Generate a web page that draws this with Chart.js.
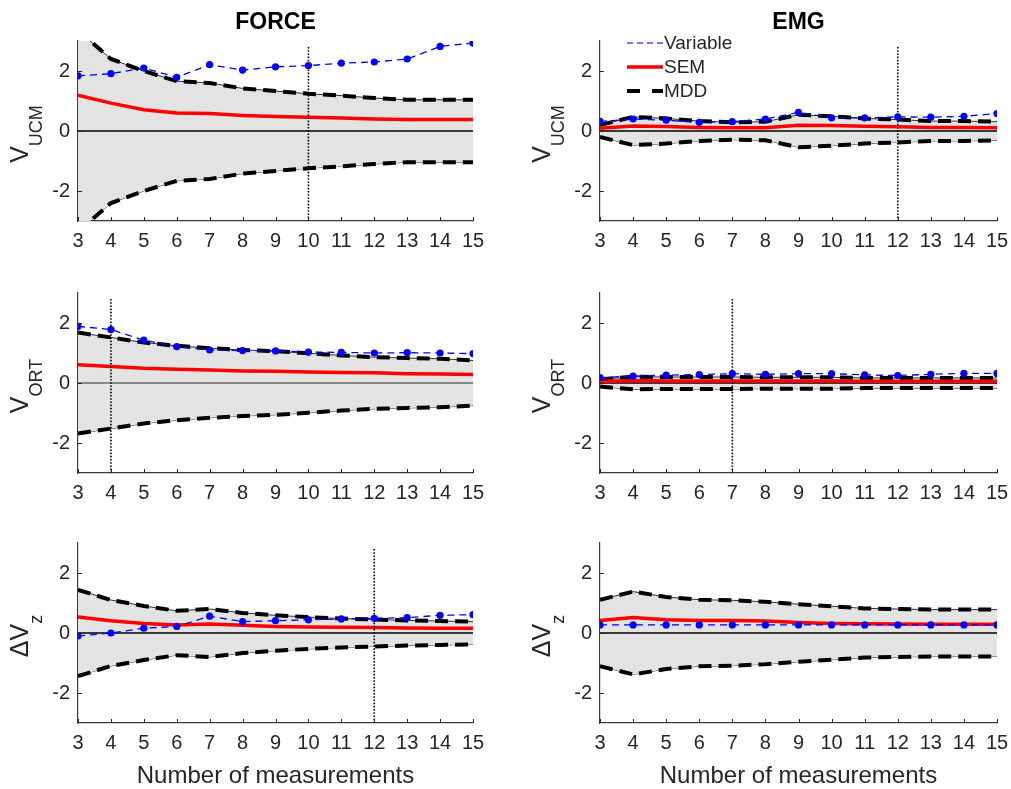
<!DOCTYPE html>
<html lang="en">
<head>
<meta charset="UTF-8">
<title>MDD vs number of measurements</title>
<script src="https://cdn.jsdelivr.net/npm/chart.js"></script>
<style>
  body { margin: 0; background: #fff; }
  #wrap { position: relative; width: 1011px; height: 789px; overflow: hidden; }
  #wrap canvas { position: absolute; }
</style>
</head>
<body>
<div id="wrap"></div>
<script>
  // x values (number of measurements)
  const nMeas = [3, 4, 5, 6, 7, 8, 9, 10, 11, 12, 13, 14, 15];

  // FORCE, V_UCM
  const forceUcmVar = [1.84, 1.91, 2.10, 1.79, 2.21, 2.03, 2.14, 2.18, 2.26, 2.30, 2.40, 2.82, 2.93];
  const forceUcmSem = [1.19, 0.93, 0.71, 0.60, 0.58, 0.52, 0.48, 0.46, 0.43, 0.40, 0.38, 0.38, 0.38];
  const forceUcmMdd = [3.35, 2.40, 2.00, 1.66, 1.60, 1.42, 1.33, 1.24, 1.18, 1.10, 1.04, 1.04, 1.04];

  // EMG, V_UCM
  const emgUcmVar = [0.32, 0.40, 0.36, 0.29, 0.31, 0.40, 0.62, 0.44, 0.44, 0.47, 0.46, 0.49, 0.58];
  const emgUcmSem = [0.09, 0.17, 0.15, 0.12, 0.11, 0.11, 0.19, 0.18, 0.16, 0.14, 0.12, 0.12, 0.11];
  const emgUcmMdd = [0.20, 0.47, 0.42, 0.33, 0.29, 0.31, 0.54, 0.49, 0.42, 0.38, 0.33, 0.33, 0.31];

  // FORCE, V_ORT
  const forceOrtVar = [1.89, 1.78, 1.43, 1.21, 1.10, 1.08, 1.07, 1.03, 1.02, 1.00, 1.01, 1.00, 0.98];
  const forceOrtSem = [0.61, 0.55, 0.49, 0.46, 0.43, 0.40, 0.39, 0.37, 0.35, 0.34, 0.31, 0.30, 0.28];
  const forceOrtMdd = [1.68, 1.52, 1.35, 1.24, 1.16, 1.10, 1.06, 0.99, 0.92, 0.86, 0.83, 0.81, 0.75];

  // EMG, V_ORT
  const emgOrtVar = [0.18, 0.23, 0.26, 0.28, 0.31, 0.29, 0.31, 0.31, 0.27, 0.25, 0.29, 0.32, 0.32];
  const emgOrtSem = [0.05, 0.08, 0.07, 0.07, 0.07, 0.07, 0.07, 0.07, 0.06, 0.06, 0.06, 0.06, 0.06];
  const emgOrtMdd = [0.12, 0.21, 0.20, 0.20, 0.20, 0.19, 0.19, 0.19, 0.17, 0.17, 0.17, 0.17, 0.17];

  // FORCE, dVz
  const forceDvzVar = [-0.10, 0.00, 0.16, 0.22, 0.56, 0.38, 0.41, 0.44, 0.47, 0.49, 0.51, 0.59, 0.61];
  const forceDvzSem = [0.53, 0.41, 0.32, 0.27, 0.30, 0.26, 0.22, 0.20, 0.19, 0.18, 0.17, 0.16, 0.16];
  const forceDvzMdd = [1.44, 1.10, 0.90, 0.74, 0.80, 0.67, 0.59, 0.53, 0.48, 0.45, 0.42, 0.40, 0.38];

  // EMG, dVz
  const emgDvzVar = [0.27, 0.27, 0.27, 0.27, 0.27, 0.27, 0.27, 0.27, 0.27, 0.27, 0.27, 0.27, 0.27];
  const emgDvzSem = [0.42, 0.52, 0.44, 0.42, 0.42, 0.40, 0.35, 0.32, 0.31, 0.30, 0.29, 0.29, 0.29];
  const emgDvzMdd = [1.11, 1.38, 1.20, 1.11, 1.09, 1.04, 0.96, 0.89, 0.82, 0.80, 0.78, 0.78, 0.78];

  const colTitles = ['FORCE', 'EMG'];
  const rowLabels = [['V', 'UCM'], ['V', 'ORT'], ['\u0394V', 'z']];
  const yTicks = [-2, 0, 2];
  const xLabel = 'Number of measurements';
  const legendNames = ['Variable', 'SEM', 'MDD'];

  const panels = [
    { row: 0, col: 0, vari: forceUcmVar, sem: forceUcmSem, mdd: forceUcmMdd, cut: 10 },
    { row: 0, col: 1, vari: emgUcmVar, sem: emgUcmSem, mdd: emgUcmMdd, cut: 12 },
    { row: 1, col: 0, vari: forceOrtVar, sem: forceOrtSem, mdd: forceOrtMdd, cut: 4 },
    { row: 1, col: 1, vari: emgOrtVar, sem: emgOrtSem, mdd: emgOrtMdd, cut: 7 },
    { row: 2, col: 0, vari: forceDvzVar, sem: forceDvzSem, mdd: forceDvzMdd, cut: 12 },
    { row: 2, col: 1, vari: emgDvzVar, sem: emgDvzSem, mdd: emgDvzMdd, cut: null }
  ];

  // layout of the 3x2 grid (canvas boxes and target plot areas);
  // the right column canvas runs past the page edge and is clipped by #wrap
  const cols = [
    { left: 0, width: 505, plotL: 78, plotR: 473 },
    { left: 505, width: 530, plotL: 600, plotR: 997 }
  ];
  const rows = [
    { top: 0, height: 262, plotT: 41, plotB: 221 },
    { top: 262, height: 250, plotT: 293, plotB: 473 },
    { top: 512, height: 277, plotT: 543, plotB: 723 }
  ];
  const Y_AXIS_W = 60;
  const X_AXIS_H = 30;

  const FONT = "'Liberation Sans', Arial, Helvetica, sans-serif";
  const TXT = '#262626';
  Chart.defaults.font.family = FONT;
  Chart.defaults.color = TXT;

  const pts = arr => arr.map((v, i) => ({ x: nMeas[i], y: v }));
  const xMin = nMeas[0];
  const xMax = nMeas[nMeas.length - 1];

  // y label with subscript, titles, x label, inward ticks, legend
  const decor = {
    id: 'decor',
    afterDatasetsDraw(chart) {
      const p = chart.options.plugins.decor;
      const ctx = chart.ctx;
      const a = chart.chartArea;
      const xs = chart.scales.x, ys = chart.scales.y;

      ctx.save();
      // inward tick marks
      ctx.strokeStyle = TXT;
      ctx.lineWidth = 1;
      ctx.beginPath();
      xs.ticks.forEach(t => {
        const px = Math.round(xs.getPixelForValue(t.value)) + 0.5;
        ctx.moveTo(px, a.bottom);
        ctx.lineTo(px, a.bottom - 4);
      });
      ys.ticks.forEach(t => {
        const py = Math.round(ys.getPixelForValue(t.value)) + 0.5;
        ctx.moveTo(a.left, py);
        ctx.lineTo(a.left + 4, py);
      });
      ctx.stroke();
      ctx.restore();

      // legend
      if (p.legend) {
        ctx.save();
        const lx = a.left + 27, lw = 36;
        const ly = [a.top + 2, a.top + 26, a.top + 50];
        ctx.lineCap = 'butt';
        // Variable
        ctx.strokeStyle = '#4a4aff';
        ctx.lineWidth = 1.3;
        ctx.setLineDash([6, 4]);
        ctx.beginPath(); ctx.moveTo(lx, ly[0]); ctx.lineTo(lx + lw, ly[0]); ctx.stroke();
        // SEM
        ctx.strokeStyle = '#ff0000';
        ctx.lineWidth = 3.5;
        ctx.setLineDash([]);
        ctx.beginPath(); ctx.moveTo(lx, ly[1]); ctx.lineTo(lx + lw, ly[1]); ctx.stroke();
        // MDD
        ctx.strokeStyle = '#000';
        ctx.lineWidth = 4;
        ctx.setLineDash([13, 12]);
        ctx.beginPath(); ctx.moveTo(lx, ly[2]); ctx.lineTo(lx + lw, ly[2]); ctx.stroke();
        ctx.setLineDash([]);
        ctx.fillStyle = TXT;
        ctx.font = '19px ' + FONT;
        ctx.textBaseline = 'middle';
        ctx.textAlign = 'left';
        legendNames.forEach((n, i) => ctx.fillText(n, lx + lw + 1, ly[i] + 1));
        ctx.restore();
      }
    },
    afterDraw(chart) {
      const p = chart.options.plugins.decor;
      const ctx = chart.ctx;
      const a = chart.chartArea;
      const cx = (a.left + a.right) / 2;

      ctx.save();
      ctx.fillStyle = TXT;
      if (p.title) {
        ctx.fillStyle = '#000';
        ctx.font = 'bold 23px ' + FONT;
        ctx.textAlign = 'center';
        ctx.textBaseline = 'middle';
        ctx.fillText(p.title, cx, a.top - 18);
      }
      if (p.xLabel) {
        ctx.fillStyle = TXT;
        ctx.font = '24px ' + FONT;
        ctx.textAlign = 'center';
        ctx.textBaseline = 'middle';
        ctx.fillText(p.xLabel, cx, a.bottom + 53);
      }
      // rotated y label with subscript
      const [main, sub] = p.yLabel;
      const mainFont = '25px ' + FONT, subFont = '18px ' + FONT;
      ctx.font = mainFont;
      const wm = ctx.measureText(main).width;
      ctx.font = subFont;
      const ws = ctx.measureText(sub).width;
      const total = wm + ws;
      ctx.translate(a.left - 50, (a.top + a.bottom) / 2 + 3);
      ctx.rotate(-Math.PI / 2);
      ctx.fillStyle = TXT;
      ctx.textAlign = 'left';
      ctx.textBaseline = 'alphabetic';
      ctx.font = mainFont;
      ctx.fillText(main, -total / 2, 0);
      ctx.font = subFont;
      ctx.fillText(sub, -total / 2 + wm, 14);
      ctx.restore();
    }
  };

  const wrap = document.getElementById('wrap');

  panels.forEach(p => {
    const c = cols[p.col], r = rows[p.row];
    const canvas = document.createElement('canvas');
    canvas.width = c.width;
    canvas.height = r.height;
    canvas.style.left = c.left + 'px';
    canvas.style.top = r.top + 'px';
    canvas.style.width = c.width + 'px';
    canvas.style.height = r.height + 'px';
    wrap.appendChild(canvas);

    const last = p.mdd.length - 1;
    const datasets = [
      { // shaded MDD band (upper edge)
        data: pts(p.mdd), borderColor: '#000', borderWidth: 0.8,
        backgroundColor: '#e3e3e3', fill: '+1', pointRadius: 0, order: 10
      },
      { // shaded MDD band (lower edge)
        data: pts(p.mdd.map(v => -v)), borderColor: '#000', borderWidth: 0.8,
        fill: false, pointRadius: 0, order: 10
      },
      { // band closing edge at the last measurement
        data: [{ x: xMax, y: p.mdd[last] }, { x: xMax, y: -p.mdd[last] }],
        borderColor: '#000', borderWidth: 0.8, pointRadius: 0, fill: false, order: 10
      },
      { // zero line
        data: [{ x: xMin, y: 0 }, { x: xMax, y: 0 }],
        borderColor: p.row === 1 && p.col === 0 ? '#6a6a6a' : '#000',
        borderWidth: 1.3, pointRadius: 0, fill: false, order: 9
      },
      { // MDD dashed
        data: pts(p.mdd), borderColor: '#000', borderWidth: 4, borderDash: [13, 7],
        pointRadius: 0, fill: false, order: 8
      },
      {
        data: pts(p.mdd.map(v => -v)), borderColor: '#000', borderWidth: 4, borderDash: [13, 7],
        pointRadius: 0, fill: false, order: 8
      },
      { // SEM
        data: pts(p.sem), borderColor: '#ff0000', borderWidth: 3.5,
        pointRadius: 0, fill: false, order: 6
      },
      { // Variable
        data: pts(p.vari), borderColor: '#0000ff', borderWidth: 1.3, borderDash: [7, 5],
        pointRadius: 3.6, pointBackgroundColor: '#0000ff', pointBorderWidth: 0,
        fill: false, order: 2
      }
    ];
    if (p.cut !== null) {
      datasets.push({ // cut-off marker
        data: [{ x: p.cut, y: 2.8 }, { x: p.cut, y: -3 }],
        borderColor: '#000', borderWidth: 1.6, borderDash: [1.6, 1.6],
        pointRadius: 0, fill: false, order: 4
      });
    }

    new Chart(canvas.getContext('2d'), {
      type: 'line',
      data: { datasets },
      options: {
        responsive: false,
        animation: false,
        devicePixelRatio: 1,
        layout: {
          padding: {
            left: c.plotL - c.left - Y_AXIS_W,
            right: c.left + c.width - c.plotR,
            top: r.plotT - r.top,
            bottom: r.top + r.height - r.plotB - X_AXIS_H
          }
        },
        scales: {
          x: {
            type: 'linear', min: xMin, max: xMax,
            ticks: { stepSize: 1, autoSkip: false, maxRotation: 0, padding: 8, color: TXT, font: { size: 20 } },
            grid: { display: false, drawTicks: false },
            border: { color: '#3a3a3a', width: 1.2 },
            afterFit: s => { s.height = X_AXIS_H; }
          },
          y: {
            type: 'linear', min: -3, max: 3,
            afterBuildTicks: s => { s.ticks = yTicks.map(v => ({ value: v })); },
            ticks: { padding: 8, color: TXT, font: { size: 20 } },
            grid: { display: false, drawTicks: false },
            border: { color: '#3a3a3a', width: 1.2 },
            afterFit: s => { s.width = Y_AXIS_W; }
          }
        },
        plugins: {
          legend: { display: false },
          tooltip: { enabled: false },
          decor: {
            title: p.row === 0 ? colTitles[p.col] : null,
            xLabel: p.row === 2 ? xLabel : null,
            yLabel: rowLabels[p.row],
            legend: p.row === 0 && p.col === 1
          }
        }
      },
      plugins: [decor]
    });
  });
</script>
</body>
</html>
